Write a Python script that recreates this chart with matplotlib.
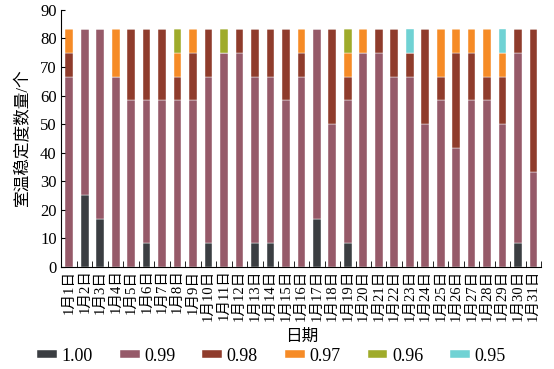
import numpy as np
import matplotlib
matplotlib.use("Agg")
import matplotlib.pyplot as plt

# one unit = one reading; each day has 10 readings of 100/12
unit = 100.0 / 12

days = ["1月%d日" % d for d in range(1, 32)]
labels = ["1.00", "0.99", "0.98", "0.97", "0.96", "0.95"]
colors = ["#3b3e42", "#965a69", "#8f3c2c", "#f68b26", "#9fab2a", "#70d2d4"]

s100 = [0, 3, 2, 0, 0, 1, 0, 0, 0, 1, 0, 0, 1, 1, 0, 0, 2, 0, 1, 0, 0, 0, 0, 0, 0, 0, 0, 0, 0, 1, 0]
s099 = [8, 7, 8, 8, 7, 6, 7, 7, 7, 7, 9, 9, 7, 7, 7, 8, 8, 6, 6, 9, 9, 8, 8, 6, 7, 5, 7, 7, 6, 8, 4]
s098 = [1, 0, 0, 0, 3, 3, 3, 1, 2, 2, 0, 1, 2, 2, 3, 1, 0, 4, 1, 0, 1, 2, 1, 4, 1, 4, 2, 1, 2, 1, 6]
s097 = [1, 0, 0, 2, 0, 0, 0, 1, 1, 0, 0, 0, 0, 0, 0, 1, 0, 0, 1, 1, 0, 0, 0, 0, 2, 1, 1, 2, 1, 0, 0]
s096 = [0, 0, 0, 0, 0, 0, 0, 1, 0, 0, 1, 0, 0, 0, 0, 0, 0, 0, 1, 0, 0, 0, 0, 0, 0, 0, 0, 0, 0, 0, 0]
s095 = [0, 0, 0, 0, 0, 0, 0, 0, 0, 0, 0, 0, 0, 0, 0, 0, 0, 0, 0, 0, 0, 0, 1, 0, 0, 0, 0, 0, 1, 0, 0]

plt.rcParams['font.family'] = ['Liberation Serif', 'Noto Sans CJK SC', 'DejaVu Sans']

series = [s100, s099, s098, s097, s096, s095]
x = np.arange(len(days))

fig = plt.figure(figsize=(5.54, 3.69), dpi=100)
ax = fig.add_axes([0.111, 0.277, 0.866, 0.696])

bottom = np.zeros(len(days))
for vals, lab, col in zip(series, labels, colors):
    v = np.array(vals) * unit
    ax.bar(x, v, width=0.5, bottom=bottom, color=col, label=lab, edgecolor='white', linewidth=0.3)
    bottom += v

ax.set_xlim(-0.5, len(days) - 0.5)
ax.set_ylim(0, 90)
ax.set_yticks(np.arange(0, 91, 10))
ax.tick_params(axis='y', direction='in', labelsize=12, length=3)

ax.set_xticks(x)
ax.set_xticklabels(days, rotation=90, fontsize=10.5)
ax.tick_params(axis='x', which='major', length=0, pad=2)
ax.set_xticks(np.arange(-0.5, len(days), 1), minor=True)
ax.tick_params(axis='x', which='minor', direction='in', length=4)

ax.spines['top'].set_visible(False)
ax.spines['right'].set_visible(False)

ax.set_ylabel('室温稳定度数量/个', fontsize=12, labelpad=6)
ax.set_xlabel('日期', fontsize=12, labelpad=6)

fig.legend(loc='center', bbox_to_anchor=(0.49, 0.035), ncol=6, frameon=False,
           fontsize=13, handlelength=1.1, handleheight=0.35, columnspacing=1.5, handletextpad=0.25)

fig.savefig('out.png', dpi=100)
